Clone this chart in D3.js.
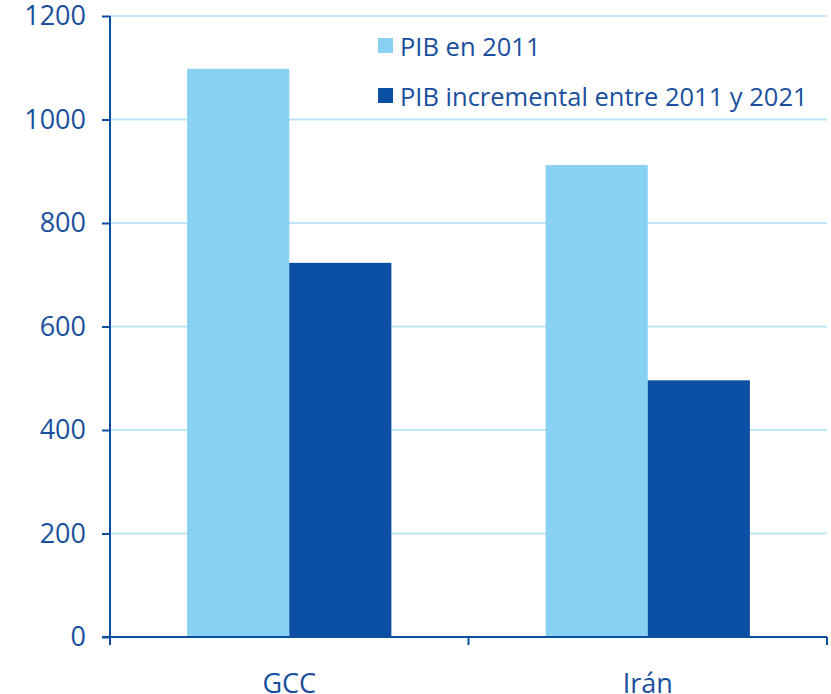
<!DOCTYPE html>
<html>
<head>
<meta charset="utf-8">
<script src="https://cdn.jsdelivr.net/npm/d3@7"></script>
<style>
  body { margin: 0; background: #fff; }
  svg text { font-family: "Open Sans", sans-serif; fill: #1a4f9e; }
</style>
</head>
<body>
<div id="chart"></div>
<script>
var categories = ["GCC", "Irán"];
var seriesNames = ["PIB en 2011", "PIB incremental entre 2011 y 2021"];
var pib2011 = [1098, 912];
var pibIncremental = [723, 496];
var yTicks = [0, 200, 400, 600, 800, 1000, 1200];

var colors = ["#89d1f3", "#0a4fa3"];

var width = 831, height = 694;
var plotLeft = 110, plotRight = 827, plotTop = 16, plotBottom = 637;

var svg = d3.select("#chart").append("svg")
  .attr("width", width)
  .attr("height", height);

var x = d3.scaleBand()
  .domain(categories)
  .range([plotLeft, plotRight]);

var xInner = d3.scaleBand()
  .domain(seriesNames)
  .range([0, x.bandwidth()])
  .paddingOuter(0.755);

var y = d3.scaleLinear()
  .domain([0, 1200])
  .range([plotBottom, plotTop]);

// gridlines
svg.append("g")
  .selectAll("line")
  .data(yTicks.filter(function(d){ return d > 0; }))
  .enter()
  .append("line")
  .attr("x1", plotLeft)
  .attr("x2", plotRight)
  .attr("y1", function(d){ return y(d); })
  .attr("y2", function(d){ return y(d); })
  .attr("stroke", "#bde6f8")
  .attr("stroke-width", 2);

var data = categories.map(function(c, i){
  return { cat: c, values: [
    { name: seriesNames[0], v: pib2011[i] },
    { name: seriesNames[1], v: pibIncremental[i] }
  ]};
});

var groups = svg.selectAll(".grp")
  .data(data)
  .enter()
  .append("g")
  .attr("class", "grp")
  .attr("transform", function(d){ return "translate(" + x(d.cat) + ",0)"; });

groups.selectAll("rect")
  .data(function(d){ return d.values; })
  .enter()
  .append("rect")
  .attr("x", function(d){ return xInner(d.name); })
  .attr("width", xInner.bandwidth())
  .attr("y", function(d){ return y(d.v); })
  .attr("height", function(d){ return y(0) - y(d.v); })
  .attr("fill", function(d, i){ return colors[i]; });

// y axis
var yAxis = d3.axisLeft(y).tickValues(yTicks).tickSize(8).tickPadding(16).tickFormat(d3.format("d"));
var yg = svg.append("g")
  .attr("transform", "translate(" + plotLeft + ",0)")
  .call(yAxis);
yg.select(".domain").remove();
yg.selectAll(".tick line").attr("stroke", "#0a4fa3").attr("stroke-width", 2);
yg.selectAll(".tick text").style("font-size", "27px").attr("fill", "#1a4f9e");
yg.append("line")
  .attr("x1", 0).attr("x2", 0)
  .attr("y1", plotTop).attr("y2", plotBottom + 8)
  .attr("stroke", "#0a4fa3").attr("stroke-width", 2);

// x axis
var xg = svg.append("g")
  .attr("transform", "translate(0," + plotBottom + ")");
xg.append("line")
  .attr("x1", plotLeft - 8).attr("x2", plotRight)
  .attr("y1", 0).attr("y2", 0)
  .attr("stroke", "#0a4fa3").attr("stroke-width", 2);
var bounds = categories.map(function(c){ return x(c); }).concat([plotRight]);
xg.selectAll(".xt")
  .data(bounds)
  .enter()
  .append("line")
  .attr("x1", function(d){ return d; })
  .attr("x2", function(d){ return d; })
  .attr("y1", 0).attr("y2", 8)
  .attr("stroke", "#0a4fa3").attr("stroke-width", 2);
xg.selectAll(".xl")
  .data(categories)
  .enter()
  .append("text")
  .attr("x", function(d){ return x(d) + x.bandwidth() / 2; })
  .attr("y", 56)
  .attr("text-anchor", "middle")
  .style("font-size", "27px")
  .text(function(d){ return d; });

// legend
var legend = svg.append("g").attr("transform", "translate(378,38)");
var li = legend.selectAll(".li")
  .data(seriesNames)
  .enter()
  .append("g")
  .attr("transform", function(d, i){ return "translate(0," + (i * 50) + ")"; });
li.append("rect")
  .attr("width", 15).attr("height", 15)
  .attr("fill", function(d, i){ return colors[i]; });
li.append("text")
  .attr("x", 22)
  .attr("y", 18)
  .style("font-size", "25.5px")
  .text(function(d){ return d; });
</script>
</body>
</html>
